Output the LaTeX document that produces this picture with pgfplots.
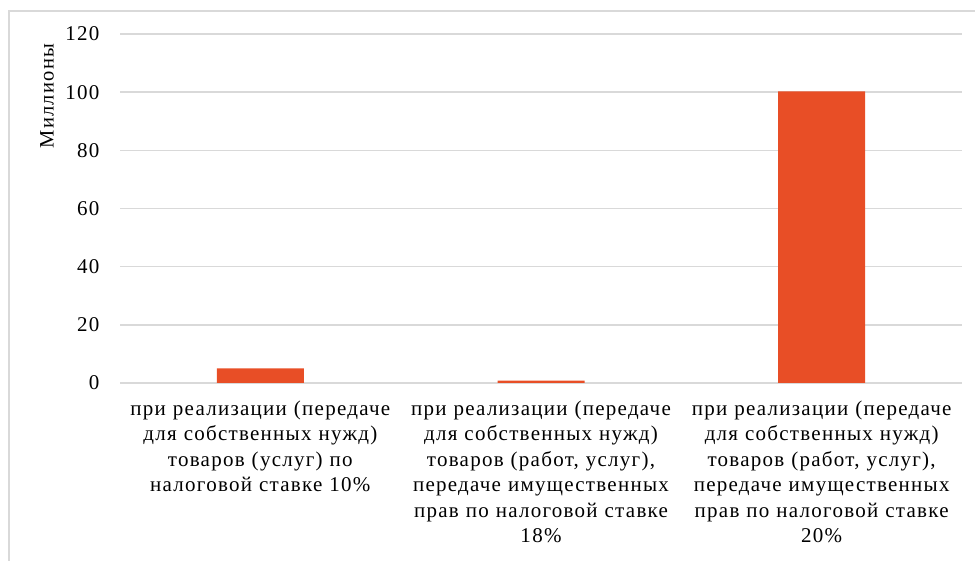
\documentclass[border=0pt]{standalone}
\usepackage{fontspec}
\setmainfont{Liberation Serif}[LetterSpace=6]
\usepackage{pgfplots}
\pgfplotsset{compat=1.18}
\definecolor{barc}{HTML}{E84E26}
\definecolor{gridc}{HTML}{D9D9D9}
\begin{document}
\begin{tikzpicture}[x=1pt,y=1pt]
\path[use as bounding box] (0,0) rectangle (975,561);
\draw[gridc, line width=1.5pt] (9,0) -- (9,550) -- (975,550);
\begin{axis}[
  at={(120pt,178pt)}, anchor=south west,
  scale only axis, width=842pt, height=349pt,
  ymin=0, ymax=120, ytick={0,20,...,120},
  xmin=-0.5, xmax=2.5, xtick={0,1,2},
  ymajorgrids, grid style={gridc, line width=1.5pt},
  axis line style={draw=none}, tick style={draw=none},
  /pgf/number format/assume math mode=true,
  yticklabel style={font=\fontsize{21}{25}\selectfont, xshift=-17pt},
  xticklabel style={font=\fontsize{21}{25.5}\selectfont, text width=300pt, align=center, anchor=north, yshift=-14pt},
  xticklabels={{при реализации (передаче\\для собственных нужд)\\товаров (услуг) по\\налоговой ставке 10\%},
               {при реализации (передаче\\для собственных нужд)\\товаров (работ, услуг),\\передаче имущественных\\прав по налоговой ставке\\18\%},
               {при реализации (передаче\\для собственных нужд)\\товаров (работ, услуг),\\передаче имущественных\\прав по налоговой ставке\\20\%}},
  ylabel={Миллионы},
  ylabel style={font=\fontsize{20.5}{24}\selectfont, at={(axis description cs:-0.0867,0.822)}, anchor=center},
]
\addplot[ybar, bar width=87pt, fill=barc, draw=none] coordinates {(0,5.0) (1,0.8) (2,100.3)};
\end{axis}
\end{tikzpicture}
\end{document}
